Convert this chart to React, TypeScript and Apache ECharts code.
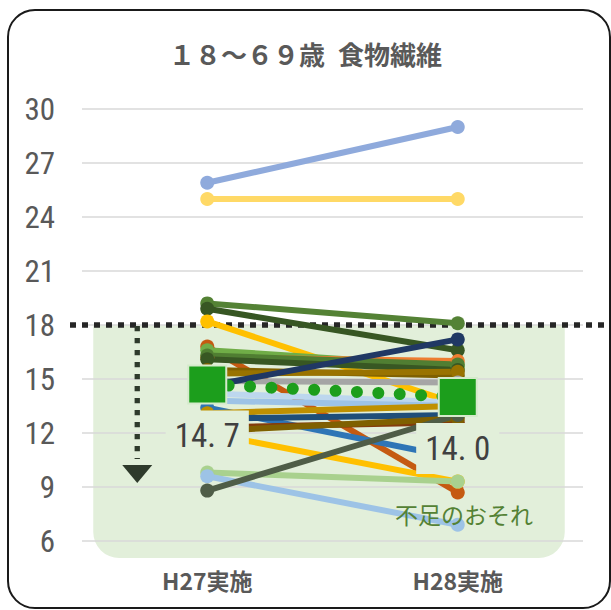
import React, { useEffect, useRef } from "react";
import * as echarts from "echarts";

const categories = ["H27実施", "H28実施"];

// Dietary fibre intake (g/day), one pair of values per participant
const intakeH27 = [25.9, 25.0, 19.2, 18.9, 18.2, 16.8, 16.6, 16.2, 16.3, 16.1, 15.5, 15.3, 14.9, 14.6, 14.2, 13.8, 13.4, 13.1, 12.8, 12.3, 12.1, 12.0, 9.8, 9.6, 8.8];
const intakeH28 = [29.0, 25.0, 18.1, 16.6, 13.6, 8.7, 15.7, 16.0, 15.8, 15.5, 15.2, 15.4, 14.8, 17.2, 13.7, 13.5, 10.6, 13.5, 13.0, 12.6, 12.8, 9.3, 9.3, 6.9, 13.0];

const lineColors = [
  "#8FAADC", "#FFD966", "#548235", "#375623", "#FFC000", "#C55A11", "#70AD47", "#ED7D31",
  "#507E32", "#385723", "#7F6000", "#997300", "#A5A5A5", "#203864", "#BDD7EE", "#9DC3E6",
  "#2E75B6", "#BF9000", "#1F4E79", "#843C0C", "#7F6000", "#FFC000", "#A9D18E", "#9DC3E6",
  "#4F5D47",
];

const averageValues = [14.7, 14.0];
const targetValue = 18;

const yMin = 6;
const yMax = 30;
const yStep = 3;

const titleText = "１８～６９歳\u2002食物繊維";
const shortageText = "不足のおそれ";

const GREEN_AREA = "#E2EFDA";
const AVG_GREEN = "#1C9E1C";
const NARROW = "'Liberation Sans Narrow', 'Roboto Condensed', 'Noto Sans', sans-serif";
const JP = "'Noto Sans CJK JP', 'Noto Sans', sans-serif";

export default function App() {
  const ref = useRef<HTMLDivElement>(null);

  useEffect(() => {
    if (!ref.current) return;
    const chart = echarts.init(ref.current, undefined, { renderer: "svg" });

    const personSeries = intakeH27.map((v, i) => ({
      type: "line",
      data: [v, intakeH28[i]],
      symbol: "circle",
      symbolSize: 14,
      lineStyle: { width: 6, color: lineColors[i] },
      itemStyle: { color: lineColors[i] },
      z: 2,
      silent: true,
    }));

    const averageSeries = {
      type: "line",
      data: averageValues,
      symbol: "rect",
      symbolSize: 38,
      itemStyle: { color: AVG_GREEN, borderColor: "#D5EACB", borderWidth: 2 },
      lineStyle: { color: AVG_GREEN, width: 12, type: [0.01, 21.4], cap: "round" },
      z: 5,
      label: {
        show: true,
        position: "bottom",
        distance: 6,
        formatter: (p: any) => Number(p.value).toFixed(1).replace(".", ". "),
        fontFamily: NARROW,
        fontSize: 33,
        color: "#404040",
        backgroundColor: GREEN_AREA,
        padding: [9, 9],
      },
    };

    chart.setOption({
      animation: false,
      backgroundColor: "#ffffff",
      title: {
        text: titleText,
        left: "center",
        top: 35,
        textStyle: { fontFamily: JP, fontSize: 26, fontWeight: "bold", color: "#595959" },
      },
      grid: { left: 82, right: 28, top: 109, bottom: 69 },
      xAxis: {
        type: "category",
        data: categories,
        boundaryGap: true,
        axisLine: { show: false },
        axisTick: { show: false },
        axisLabel: {
          margin: 27,
          fontFamily: JP,
          fontSize: 23,
          fontWeight: "bold",
          color: "#595959",
        },
      },
      yAxis: {
        type: "value",
        min: yMin,
        max: yMax,
        interval: yStep,
        axisLine: { show: false },
        axisTick: { show: false },
        axisLabel: { margin: 27, fontFamily: NARROW, fontSize: 31, color: "#595959" },
        splitLine: { lineStyle: { color: "#D9D9D9", width: 1.5 } },
      },
      series: [...personSeries, averageSeries],
    });

    const yTarget = chart.convertToPixel({ yAxisIndex: 0 }, targetValue) as number;
    const yBottom = chart.convertToPixel({ yAxisIndex: 0 }, yMin) as number;
    const x27 = chart.convertToPixel({ xAxisIndex: 0 }, categories[0]) as number;
    const x28 = chart.convertToPixel({ xAxisIndex: 0 }, categories[1]) as number;

    const areaLeft = x27 - 114;
    const areaRight = x28 + 107;
    const arrowX = x27 - 70;
    const arrowEnd = yTarget + 134;

    chart.setOption({
      graphic: [
        {
          type: "rect",
          z: -10,
          shape: { x: areaLeft, y: yTarget, width: areaRight - areaLeft, height: yBottom + 17 - yTarget, r: [0, 0, 26, 26] },
          style: { fill: GREEN_AREA },
          silent: true,
        },
        {
          type: "line",
          z: 1,
          shape: { x1: 70, y1: yTarget, x2: 611, y2: yTarget },
          style: { stroke: "#262626", lineWidth: 5.5, lineDash: [6, 6] },
          silent: true,
        },
        {
          type: "line",
          z: 1,
          shape: { x1: arrowX, y1: yTarget + 1, x2: arrowX, y2: arrowEnd },
          style: { stroke: "#2E3A2B", lineWidth: 5.3, lineDash: [5.3, 6.7] },
          silent: true,
        },
        {
          type: "polygon",
          z: 1,
          shape: { points: [[arrowX - 15, arrowEnd + 6], [arrowX + 15, arrowEnd + 6], [arrowX, arrowEnd + 24]] },
          style: { fill: "#2E3A2B" },
          silent: true,
        },
        {
          type: "text",
          z: 10,
          x: 395,
          y: 514,
          style: {
            text: shortageText,
            fontFamily: JP,
            fontSize: 23,
            fill: "#548235",
            verticalAlign: "middle",
            align: "left",
          },
          silent: true,
        },
        {
          type: "rect",
          z: 10,
          shape: { x: 8, y: 10, width: 602, height: 598, r: 27 },
          style: { fill: "none", stroke: "#1A1A1A", lineWidth: 2 },
          silent: true,
        },
      ],
    });

    return () => chart.dispose();
  }, []);

  return (
    <div
      ref={ref}
      style={{ position: "fixed", left: 0, top: 0, width: 611, height: 610 }}
    />
  );
}
